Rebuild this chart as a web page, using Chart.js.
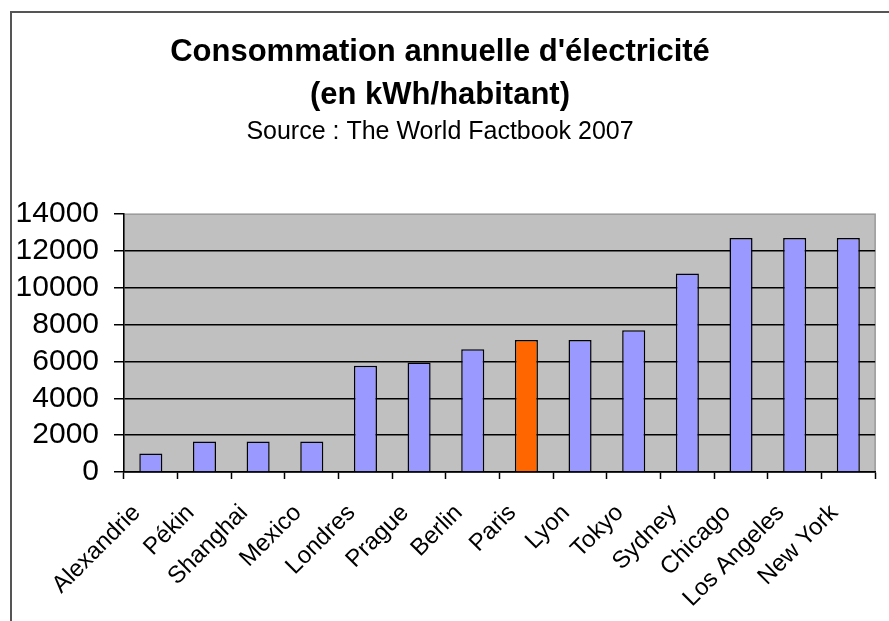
<!DOCTYPE html>
<html>
<head>
<meta charset="utf-8">
<script src="https://cdn.jsdelivr.net/npm/chart.js@4/dist/chart.umd.min.js"></script>
<style>
  html, body { margin: 0; padding: 0; background: #fff; overflow: hidden; }
  #frame { position: absolute; left: 10px; top: 11px; width: 1000px; height: 800px; border: 2px solid #555; box-sizing: border-box; }
  #wrap { position: absolute; left: 0; top: 0; width: 889px; height: 621px; }
</style>
</head>
<body>
<div id="frame"></div>
<div id="wrap"><canvas id="c" width="889" height="621"></canvas></div>
<script>
const categories = ['Alexandrie', 'Pékin', 'Shanghai', 'Mexico', 'Londres', 'Prague', 'Berlin', 'Paris', 'Lyon', 'Tokyo', 'Sydney', 'Chicago', 'Los Angeles', 'New York'];
const consumption = [1000, 1650, 1650, 1650, 5770, 5950, 6670, 7170, 7170, 7700, 10780, 12710, 12710, 12710];
const highlighted = ['Paris'];
const yMin = 0;
const yMax = 14000;
const yStep = 2000;
const titleLines = ["Consommation annuelle d'électricité", '(en kWh/habitant)'];
const subtitleText = 'Source : The World Factbook 2007';

const FONT = "'Liberation Sans', Arial, sans-serif";

const plotBg = {
  id: 'plotBg',
  beforeDraw(chart) {
    const { ctx, chartArea: a } = chart;
    ctx.save();
    ctx.fillStyle = '#C0C0C0';
    ctx.fillRect(a.left, a.top, a.right - a.left, a.bottom - a.top);
    ctx.strokeStyle = '#999999';
    ctx.lineWidth = 1.5;
    ctx.strokeRect(a.left, a.top, a.right - a.left, a.bottom - a.top);
    ctx.restore();
  }
};

new Chart(document.getElementById('c'), {
  type: 'bar',
  data: {
    labels: categories,
    datasets: [{
      data: consumption,
      backgroundColor: categories.map(c => highlighted.includes(c) ? '#FF6600' : '#9999FF'),
      borderColor: '#000000',
      borderWidth: 1.5,
      categoryPercentage: 1,
      barPercentage: 0.43
    }]
  },
  options: {
    responsive: false,
    animation: false,
    devicePixelRatio: 1,
    layout: { padding: { left: 0, right: 9, top: 0, bottom: 0 } },
    plugins: {
      legend: { display: false },
      tooltip: { enabled: false },
      title: {
        display: true,
        text: titleLines,
        color: '#000',
        font: { family: FONT, size: 31, weight: 'bold', lineHeight: 1.39 },
        padding: { top: 31, bottom: 0 }
      },
      subtitle: {
        display: true,
        text: subtitleText,
        color: '#000',
        font: { family: FONT, size: 25, weight: 'normal', lineHeight: 1.2 },
        padding: { top: 0, bottom: 67 }
      }
    },
    scales: {
      x: {
        offset: true,
        border: { display: true, color: '#000', width: 1.5 },
        grid: {
          display: true,
          offset: true,
          drawOnChartArea: false,
          drawTicks: true,
          tickLength: 7,
          tickColor: '#000',
          tickWidth: 1.5,
          color: '#000'
        },
        ticks: {
          autoSkip: false,
          minRotation: 45,
          maxRotation: 45,
          padding: 20,
          labelOffset: -14,
          color: '#000',
          font: { family: FONT, size: 24 }
        },
        afterFit(scale) { scale.height = 149; }
      },
      y: {
        min: yMin,
        max: yMax,
        border: { display: true, color: '#000', width: 1.5 },
        grid: {
          color: ctx => (ctx.tick && ctx.tick.value === yMax) ? 'rgba(0,0,0,0)' : '#000',
          lineWidth: 1.5,
          tickColor: '#000',
          tickLength: 10,
          tickWidth: 1.5
        },
        ticks: {
          stepSize: yStep,
          autoSkip: false,
          padding: 15,
          color: '#000',
          font: { family: FONT, size: 30 },
          callback: v => String(v)
        },
        afterFit(scale) { scale.width = 124; }
      }
    }
  },
  plugins: [plotBg]
});
</script>
</body>
</html>
